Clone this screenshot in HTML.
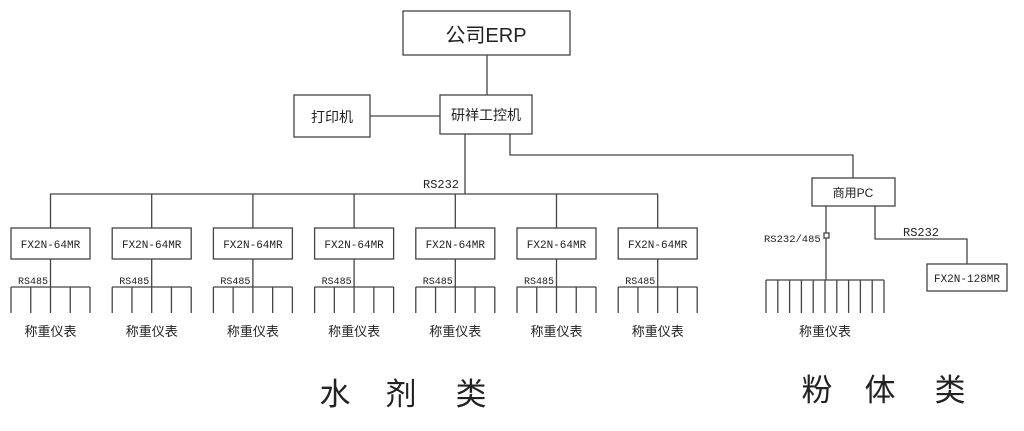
<!DOCTYPE html>
<html><head><meta charset="utf-8"><style>
html,body{margin:0;padding:0;background:#fff;width:1024px;height:431px;overflow:hidden}
text{font-family:"Liberation Sans","Noto Sans CJK SC",sans-serif;fill:#222}
.m{font-family:"Liberation Mono","Noto Sans CJK SC",monospace}
</style></head><body>
<svg width="1024" height="431" xmlns="http://www.w3.org/2000/svg">
<g fill="none" stroke="#444" stroke-width="1.3">
<rect x="403" y="11" width="167" height="44"/>
<rect x="294" y="95" width="76" height="42"/>
<rect x="440" y="95" width="92" height="39"/>
<line x1="487" y1="55" x2="487" y2="95"/>
<line x1="370" y1="116" x2="440" y2="116"/>
<line x1="465" y1="134" x2="465" y2="194"/>
<polyline points="510,134 510,155 853,155 853,178"/>
<line x1="50" y1="194" x2="658" y2="194"/>
<rect x="812" y="178" width="83" height="28"/>
<line x1="826" y1="206" x2="826" y2="280"/>
<rect x="824" y="233" width="5" height="5" fill="#fff"/>
<polyline points="875,206 875,239 967,239 967,264"/>
<rect x="927" y="264" width="80" height="27"/>
<line x1="766" y1="280" x2="884" y2="280"/>
</g>
<text x="486" y="42" font-size="20" text-anchor="middle">公司ERP</text>
<text x="332" y="122" font-size="14" text-anchor="middle">打印机</text>
<text x="486" y="120" font-size="14" text-anchor="middle">研祥工控机</text>
<text x="423" y="188" font-size="12" class="m">RS232</text>
<text x="853" y="197" font-size="12" text-anchor="middle">商用PC</text>
<text x="764" y="242" font-size="10.5" class="m">RS232/485</text>
<text x="903" y="236" font-size="12" class="m">RS232</text>
<text x="967" y="282" font-size="11" text-anchor="middle" class="m">FX2N-128MR</text>
<text x="825" y="336" font-size="13" text-anchor="middle">称重仪表</text>
<g font-size="31" text-anchor="middle">
<text x="335" y="405">水</text><text x="401" y="405">剂</text><text x="471" y="405">类</text>
<text x="817" y="401">粉</text><text x="880" y="401">体</text><text x="950" y="401">类</text>
</g>
</svg>
<script>
var ns="http://www.w3.org/2000/svg",s=document.querySelector('svg');
function el(t,a,txt){var e=document.createElementNS(ns,t);for(var k in a)e.setAttribute(k,a[k]);if(txt)e.textContent=txt;s.appendChild(e);return e;}
for(var i=0;i<7;i++){var x=11+i*101.2,c=x+39.5;
var st={stroke:"#444","stroke-width":"1.3",fill:"none"};
el('line',Object.assign({x1:c,y1:194,x2:c,y2:228},st));
el('rect',Object.assign({x:x,y:228,width:79,height:31},st));
el('line',Object.assign({x1:c,y1:259,x2:c,y2:287},st));
el('line',Object.assign({x1:x,y1:287,x2:x+79,y2:287},st));
for(var j=0;j<5;j++){var tx=x+j*19.75;el('line',Object.assign({x1:tx,y1:287,x2:tx,y2:313},st));}
el('text',{x:c,y:248,"font-size":"11","text-anchor":"middle",class:"m"},"FX2N-64MR");
el('text',{x:x+7,y:284,"font-size":"10",class:"m"},"RS485");
el('text',{x:c,y:336,"font-size":"13","text-anchor":"middle"},"称重仪表");}
for(var j=0;j<11;j++){var tx=766+j*11.8;el('line',{x1:tx,y1:280,x2:tx,y2:313,stroke:"#444","stroke-width":"1.3"});}
</script>
</body></html>
